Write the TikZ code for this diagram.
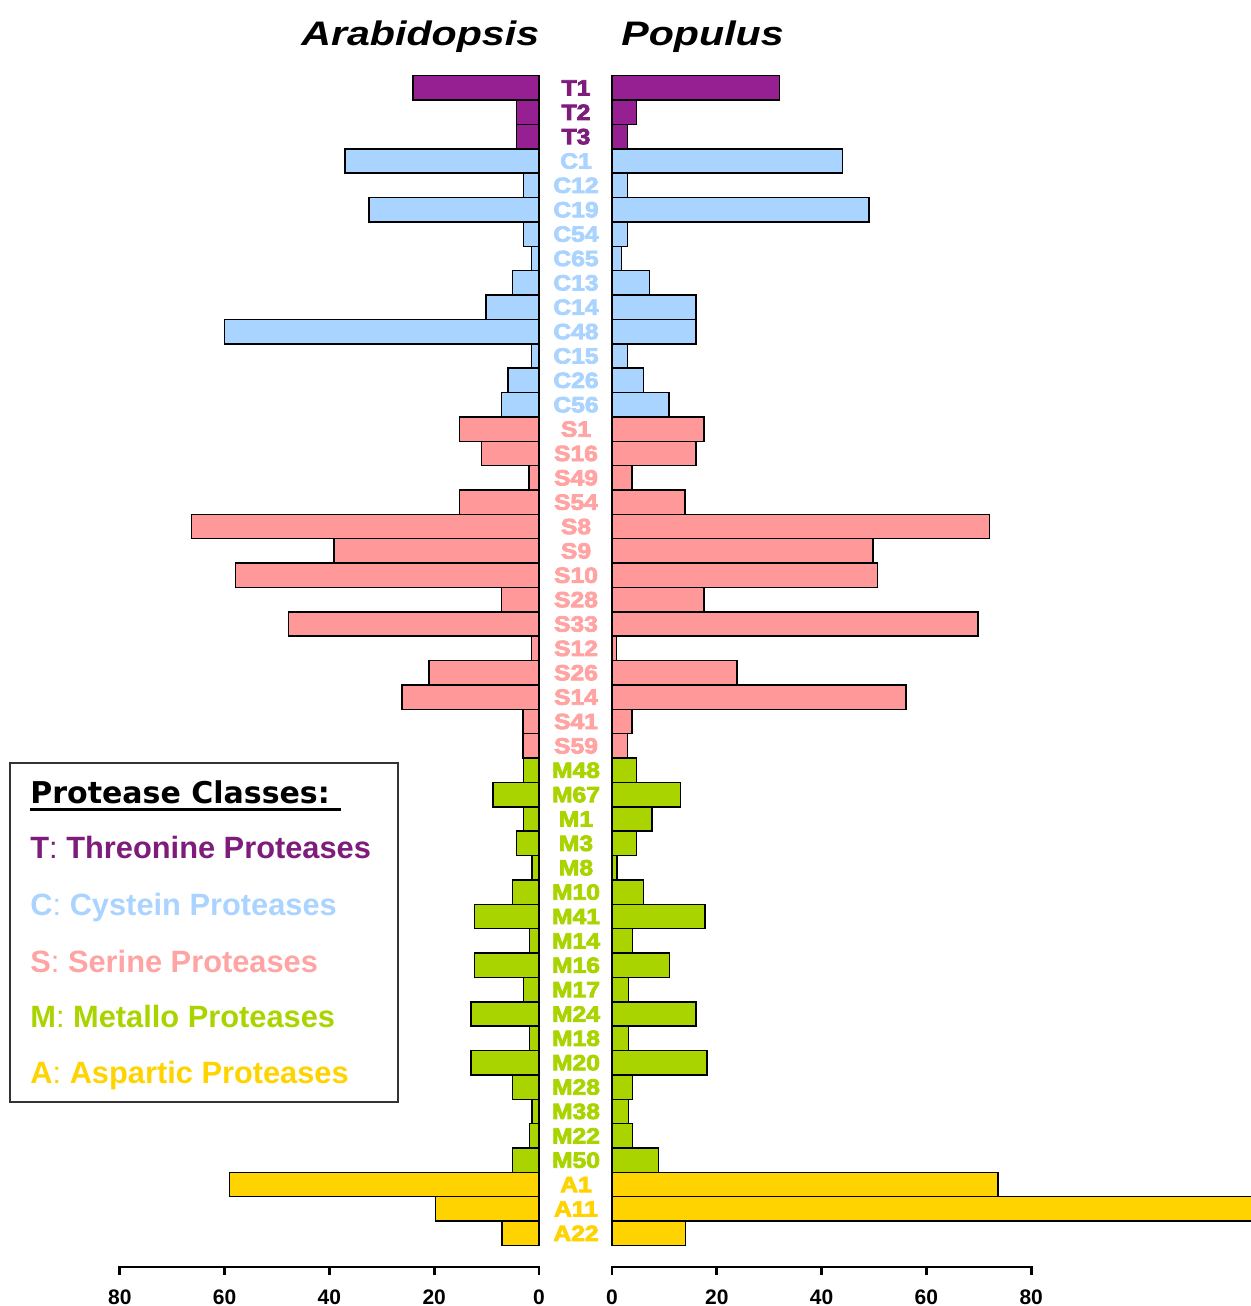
\documentclass[tikz,border=0pt]{standalone}
\usepackage{fontspec}
\usepackage{graphicx}
\setmainfont{Liberation Sans}
\newfontfamily\headfont{DejaVu Sans}
\newfontfamily\rowfont[FakeBold=3.5]{Liberation Sans Bold}
\usetikzlibrary{positioning}

\definecolor{barT}{HTML}{962092}
\definecolor{barC}{HTML}{A8D4FF}
\definecolor{barS}{HTML}{FF9999}
\definecolor{barM}{HTML}{AAD400}
\definecolor{barA}{HTML}{FFD300}
\definecolor{txtT}{HTML}{7E1C7B}
\definecolor{txtC}{HTML}{AAD4FF}
\definecolor{txtS}{HTML}{FFA3A3}
\definecolor{txtM}{HTML}{AAD400}
\definecolor{txtA}{HTML}{FFD300}

\tikzset{
    bar/.style={draw=black,line width=0.75pt},
    rowlabel/.style={font=\rowfont\fontsize{11}{11}\selectfont,inner sep=0pt},
    axis/.style={line width=1.4pt,line cap=rect},
    ticklabel/.style={font=\bfseries\fontsize{10.5}{10.5}\selectfont,inner sep=0pt},
    legendtext/.style={font=\bfseries\fontsize{15.4}{15.4}\selectfont,anchor=base west,inner sep=0pt}
}

\begin{document}
\begin{tikzpicture}[x=0.5pt,y=-0.5pt]
\path[use as bounding box,clip] (0,0) rectangle (1251,1306);

% Titel ueber den beiden Seiten
\node[anchor=base west,inner sep=0pt,font=\bfseries\itshape\fontsize{17}{17}\selectfont] (arab) at (301,46) {\scalebox{1.21}[1]{Arabidopsis}};
\node[anchor=base west,inner sep=0pt,font=\bfseries\itshape\fontsize{17}{17}\selectfont] (popu) at (621,46) {\scalebox{1.21}[1]{Populus}};

% Balken: Name / Arabidopsis / Populus / Klasse
\foreach \lab/\ara/\pop/\cls [count=\i from 0] in {
    T1/24/32/T, T2/4.3/4.7/T, T3/4.3/3/T,
    C1/37/44/C, C12/3/3/C, C19/32.4/49/C, C54/3/3/C, C65/1.4/1.8/C, C13/5.1/7.2/C,
    C14/10.1/16/C, C48/60/16/C, C15/1.4/3/C, C26/5.9/6/C, C56/7.2/10.9/C,
    S1/15.2/17.6/S, S16/11/16/S, S49/1.9/3.8/S, S54/15.2/13.9/S, S8/66.3/72/S,
    S9/39.1/49.8/S, S10/57.9/50.7/S, S28/7.2/17.6/S, S33/47.8/69.8/S, S12/1.4/0.9/S,
    S26/21/23.9/S, S14/26.1/56.1/S, S41/3.1/3.8/S, S59/3.1/3/S,
    M48/3/4.7/M, M67/8.8/13.1/M, M1/3/7.6/M, M3/4.3/4.7/M, M8/1.3/1/M, M10/5.1/6/M,
    M41/12.3/17.7/M, M14/1.8/3.9/M, M16/12.3/11/M, M17/3/3.1/M, M24/13/16/M,
    M18/1.8/3.1/M, M20/13/18.1/M, M28/5.1/3.9/M, M38/1.3/3.1/M, M22/1.8/3.9/M,
    M50/5.1/8.9/M,
    A1/59.1/73.7/A, A11/19.8/130/A, A22/7.1/14/A}{
  \pgfmathsetmacro{\yt}{75.7+24.37*\i}
  \pgfmathsetmacro{\yb}{\yt+24.37}
  \pgfmathsetmacro{\ym}{\yt+12.18}
  \draw[bar,fill=bar\cls] ({539-\ara*5.24},\yt) rectangle (539,\yb);
  \draw[bar,fill=bar\cls] (612,\yt) rectangle ({612+\pop*5.24},\yb);
  \node[rowlabel,text=txt\cls] (lab\lab) at (576,\ym) {\scalebox{1.12}[1]{\lab}};
}

% Achsen unten
\draw[axis] (120,1267) -- (539,1267);
\draw[axis] (612,1267) -- (1031,1267);
\foreach \v in {0,20,40,60,80}{
  \draw[axis] ({539-\v*5.24},1267) -- ++(0,7);
  \draw[axis] ({612+\v*5.24},1267) -- ++(0,7);
  \node[ticklabel] (ara\v) at ({539-\v*5.24},1297) {\v};
  \node[ticklabel] (pop\v) at ({612+\v*5.24},1297) {\v};
}

% Legende
\draw[line width=0.75pt,draw=black!80] (10,763) rectangle (398,1102);
\node[anchor=base west,inner sep=0pt,font=\headfont\bfseries\fontsize{15}{15}\selectfont] (legtitle) at (30,803) {Protease Classes:};
\draw[line width=1.5pt] (30,809) -- (341,809);
\node[legendtext,text=txtT] (legT) at (30,858) {T{\mdseries:} Threonine Proteases};
\node[legendtext,text=txtC] (legC) at (30,915) {C{\mdseries:} Cystein Proteases};
\node[legendtext,text=txtS] (legS) at (30,972) {S{\mdseries:} Serine Proteases};
\node[legendtext,text=txtM] (legM) at (30,1027) {M{\mdseries:} Metallo Proteases};
\node[legendtext,text=txtA] (legA) at (30,1083) {A{\mdseries:} Aspartic Proteases};
\end{tikzpicture}
\end{document}
